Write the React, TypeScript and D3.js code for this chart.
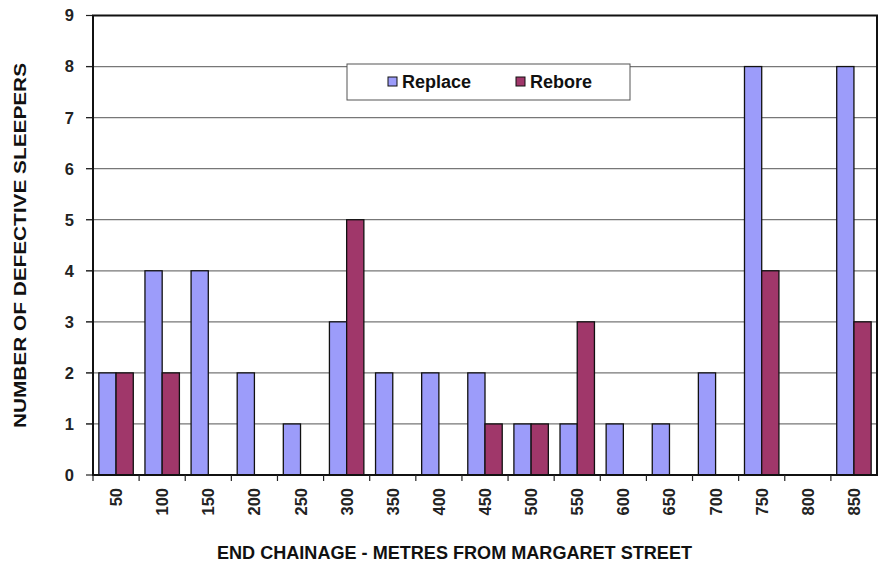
import React from "react";
import * as d3 from "d3";

const categories = ["50","100","150","200","250","300","350","400","450","500","550","600","650","700","750","800","850"];
const replaceValues = [2,4,4,2,1,3,2,2,2,1,1,1,1,2,8,0,8];
const reboreValues = [2,2,0,0,0,5,0,0,1,1,3,0,0,0,4,0,3];
const yTicks = [0,1,2,3,4,5,6,7,8,9];
const seriesNames = ["Replace","Rebore"];
const seriesColors = ["#9c9cfa","#a0376a"];

const W = 879, H = 563;
const left = 93, right = 877, top = 15.5, bottom = 475;

export default function App() {
  const x = d3.scaleBand<string>().domain(categories).range([left, right]).paddingInner(0).paddingOuter(0);
  const y = d3.scaleLinear().domain([0, 9]).range([bottom, top]);
  const inner = d3.scaleBand<string>().domain(seriesNames).range([0, x.bandwidth()]).paddingInner(0).paddingOuter(0.38 / 0.56 * 0.5);
  const font = "'Liberation Sans', Arial, sans-serif";
  const series = [replaceValues, reboreValues];

  return (
    <svg width={W} height={H} style={{ position: "absolute", left: 0, top: 0, background: "#fff" }} fontFamily={font}>
      <rect x={0} y={0} width={W} height={H} fill="#fff" />
      {yTicks.map((t) => (
        <g key={t}>
          <line x1={left - 7} x2={right} y1={y(t)} y2={y(t)} stroke={t === 0 || t === 9 ? "none" : "#777"} strokeWidth={1.2} />
          <line x1={left - 7} x2={left} y1={y(t)} y2={y(t)} stroke="#222" strokeWidth={1.2} />
          <text x={74} y={y(t)} dy="0.36em" textAnchor="end" fontSize={16.5} fontWeight="bold" fill="#222">{t}</text>
        </g>
      ))}
      {series.map((vals, si) =>
        vals.map((v, i) => v > 0 ? (
          <rect key={si + "-" + i}
            x={(x(categories[i]) as number) + (inner(seriesNames[si]) as number)}
            y={y(v)} width={inner.bandwidth()} height={y(0) - y(v)}
            fill={seriesColors[si]} stroke="#111" strokeWidth={1.3} />
        ) : null)
      )}
      <rect x={left} y={top} width={right - left} height={bottom - top} fill="none" stroke="#111" strokeWidth={2} />
      {categories.map((c, i) => (
        <line key={"t" + i} x1={(x(c) as number)} x2={(x(c) as number)} y1={bottom} y2={bottom + 6} stroke="#222" strokeWidth={1.2} />
      ))}
      {categories.map((c) => {
        const cx = (x(c) as number) + x.bandwidth() / 2;
        return (
          <text key={"l" + c} transform={`translate(${cx + 6},488) rotate(-90)`} textAnchor="end" fontSize={16.5} fontWeight="bold" fill="#222">{c}</text>
        );
      })}
      <text x={454.5} y={559} textAnchor="middle" fontSize={18} fontWeight="bold" fill="#111" textLength={475} lengthAdjust="spacingAndGlyphs">END CHAINAGE  - METRES FROM MARGARET STREET</text>
      <text transform={`translate(25.5,245.5) rotate(-90)`} textAnchor="middle" fontSize={17} fontWeight="bold" fill="#111" textLength={365} lengthAdjust="spacingAndGlyphs">NUMBER OF DEFECTIVE SLEEPERS</text>
      <g>
        <rect x={347} y={64} width={283} height={36} fill="#fff" stroke="#555" strokeWidth={1} />
        <rect x={388} y={77} width={9} height={9} fill={seriesColors[0]} stroke="#111" strokeWidth={1} />
        <text x={402} y={88} fontSize={18} fontWeight="bold" fill="#111">{seriesNames[0]}</text>
        <rect x={516} y={77} width={9} height={9} fill={seriesColors[1]} stroke="#111" strokeWidth={1} />
        <text x={530} y={88} fontSize={18} fontWeight="bold" fill="#111">{seriesNames[1]}</text>
      </g>
    </svg>
  );
}
